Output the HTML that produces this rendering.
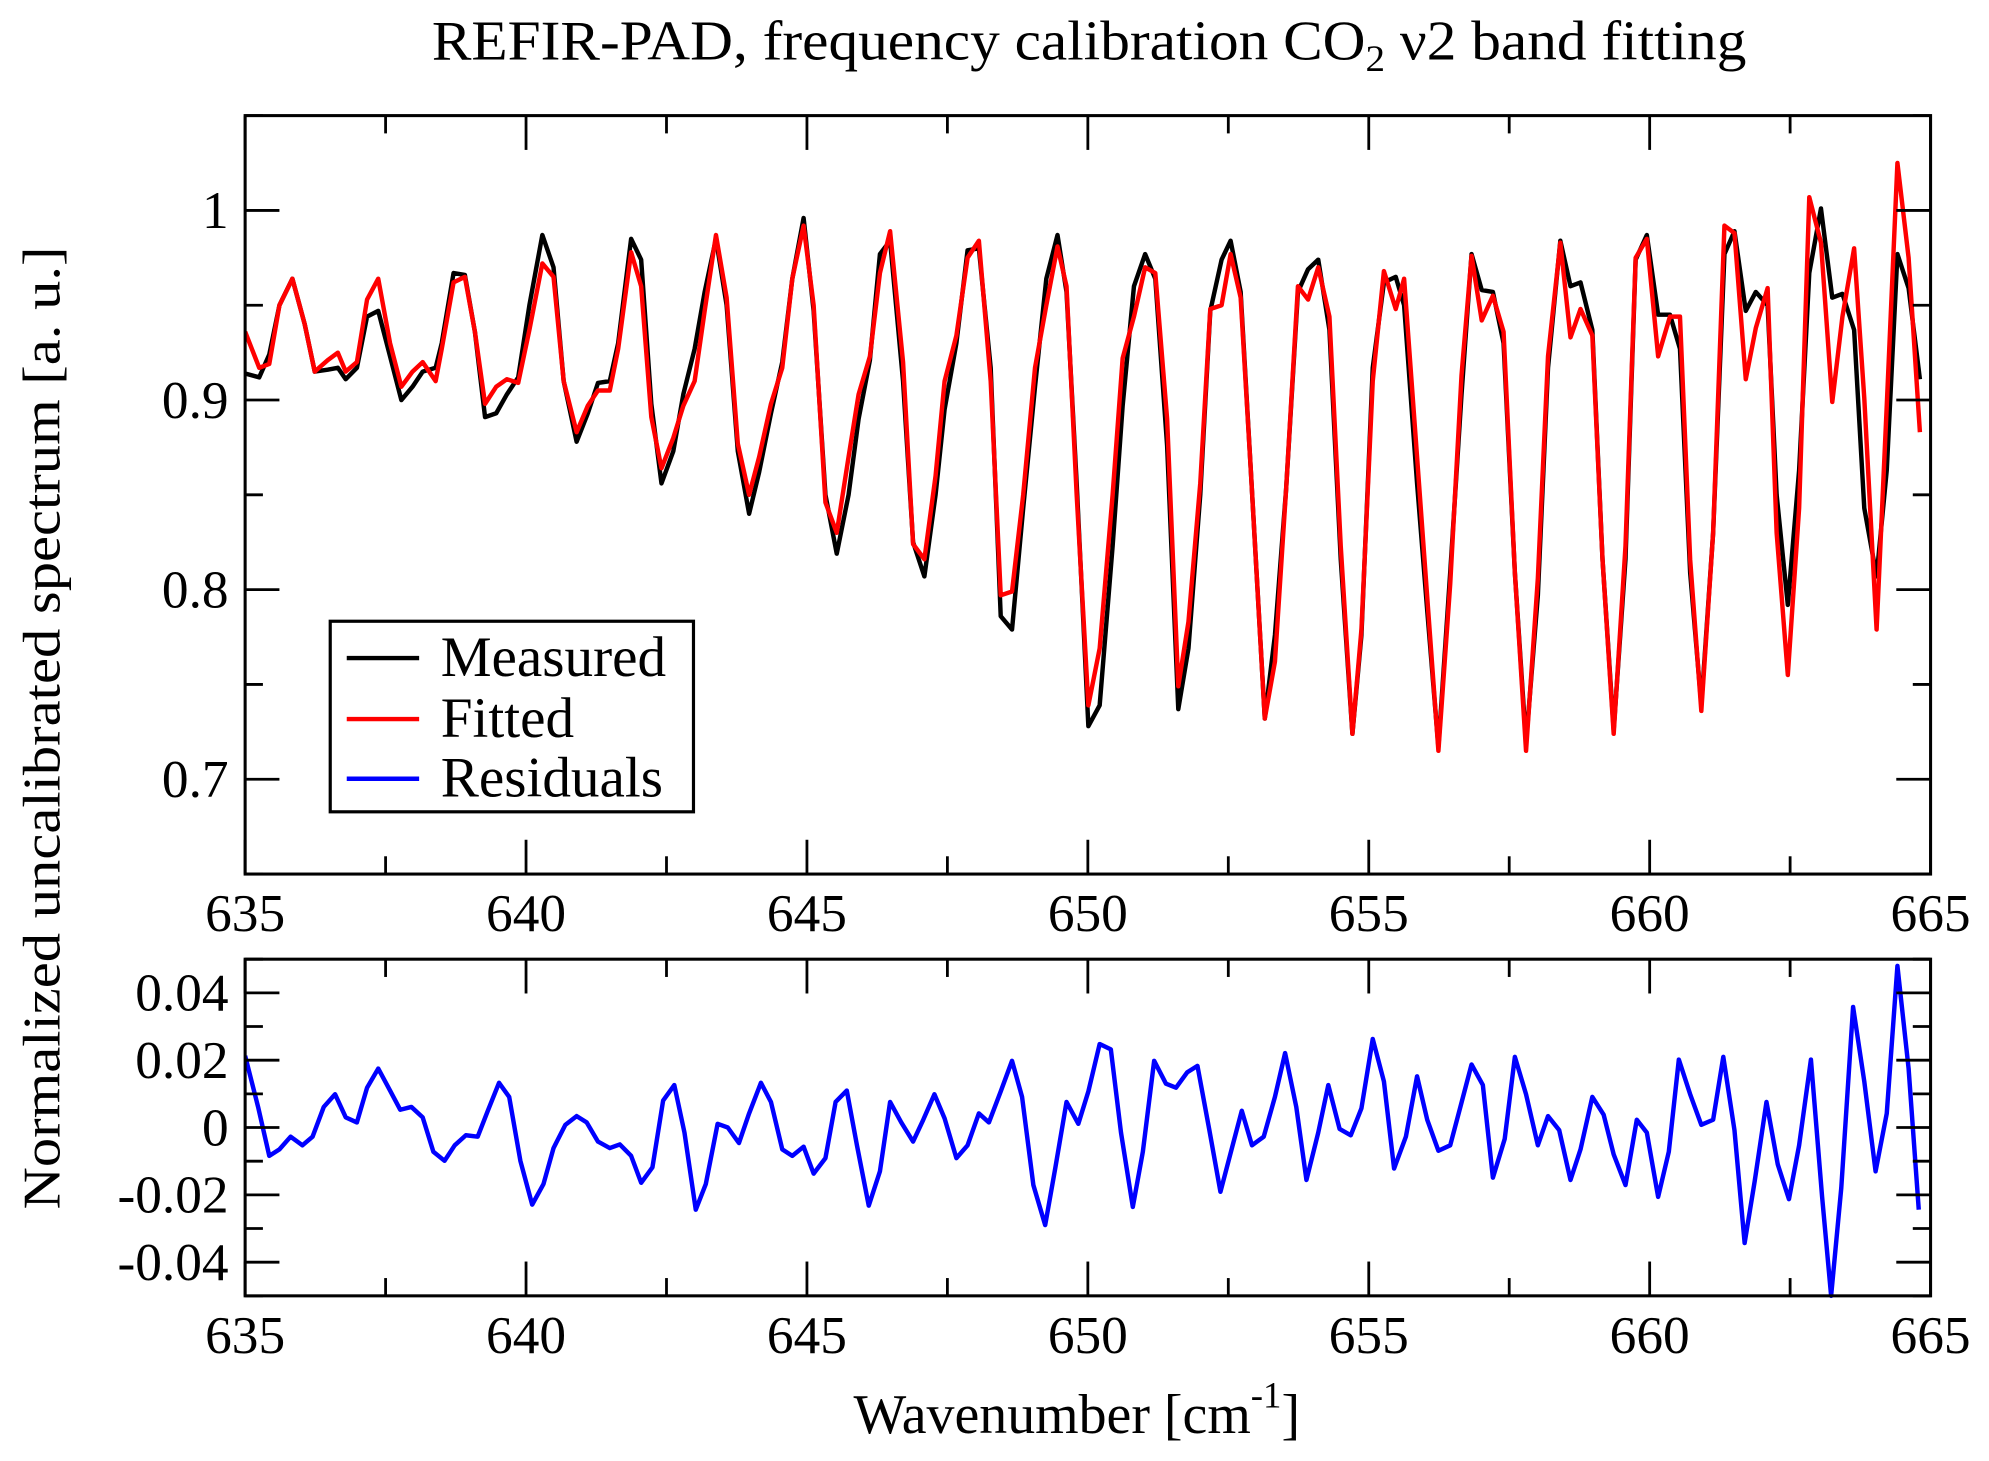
<!DOCTYPE html>
<html><head><meta charset="utf-8"><title>REFIR-PAD frequency calibration</title>
<style>html,body{margin:0;padding:0;background:#fff}svg{display:block}text{font-family:"Liberation Serif",serif;fill:#000}</style>
</head><body>
<svg id="chart" width="1989" height="1461" viewBox="0 0 1566 1150" preserveAspectRatio="none" xmlns="http://www.w3.org/2000/svg">
<rect x="0" y="0" width="1566" height="1150" fill="#fff"/>
<text x="340" y="47" font-size="44" textLength="1035" lengthAdjust="spacingAndGlyphs">REFIR-PAD, frequency calibration CO<tspan font-size="29" dy="9">2</tspan><tspan dy="-9"> ν2 band fitting</tspan></text>
<text transform="translate(47,573) rotate(-90)" font-size="42" text-anchor="middle" textLength="758" lengthAdjust="spacingAndGlyphs">Normalized uncalibrated spectrum [a. u.]</text>
<text x="672" y="1128" font-size="44">Wavenumber [cm<tspan font-size="29" dy="-20">-1</tspan><tspan dy="20">]</tspan></text>
<g id="top"></g>
<g id="bot"></g>
<g>
<rect x="260" y="489" width="286" height="150" fill="#fff" stroke="#000" stroke-width="2.5"/>
<line x1="273" y1="518" x2="330" y2="518" stroke="#000" stroke-width="3.5"/>
<text x="347" y="532" font-size="45">Measured</text>
<line x1="273" y1="566" x2="330" y2="566" stroke="#f00" stroke-width="3.5"/>
<text x="347" y="580" font-size="45">Fitted</text>
<line x1="273" y1="613" x2="330" y2="613" stroke="#00f" stroke-width="3.5"/>
<text x="347" y="627" font-size="45">Residuals</text>
</g>
</svg>
<script>
const specWn=[635.00,635.25,635.43,635.61,635.84,636.06,636.24,636.47,636.65,636.79,636.99,637.17,637.37,637.58,637.78,637.98,638.16,638.39,638.50,638.71,638.91,639.09,639.27,639.47,639.66,639.86,640.06,640.29,640.49,640.67,640.90,641.10,641.28,641.49,641.64,641.87,642.05,642.23,642.41,642.62,642.80,643.00,643.18,643.38,643.57,643.77,643.97,644.15,644.36,644.56,644.74,644.94,645.12,645.33,645.53,645.74,645.92,646.12,646.30,646.48,646.71,646.89,647.09,647.29,647.45,647.66,647.86,648.06,648.27,648.45,648.65,648.85,649.06,649.26,649.46,649.62,649.80,650.01,650.21,650.44,650.62,650.82,651.02,651.20,651.41,651.61,651.79,652.00,652.18,652.38,652.54,652.72,652.90,653.15,653.33,653.53,653.74,653.92,654.10,654.30,654.50,654.71,654.87,655.07,655.27,655.48,655.63,655.86,656.04,656.24,656.45,656.65,656.83,657.01,657.21,657.40,657.60,657.80,658.01,658.19,658.41,658.59,658.77,658.98,659.16,659.36,659.57,659.75,659.95,660.15,660.36,660.54,660.72,660.92,661.13,661.33,661.51,661.71,661.89,662.10,662.26,662.46,662.66,662.84,663.05,663.25,663.43,663.64,663.82,664.04,664.22,664.41,664.61,664.81];
const measured=[0.914,0.912,0.924,0.950,0.964,0.940,0.915,0.916,0.917,0.911,0.917,0.944,0.947,0.923,0.900,0.907,0.915,0.917,0.930,0.967,0.966,0.936,0.891,0.893,0.903,0.912,0.950,0.987,0.970,0.910,0.878,0.893,0.909,0.910,0.930,0.985,0.974,0.898,0.856,0.873,0.903,0.927,0.957,0.985,0.950,0.873,0.840,0.862,0.893,0.920,0.964,0.996,0.947,0.850,0.819,0.850,0.890,0.921,0.977,0.984,0.910,0.825,0.807,0.850,0.895,0.930,0.979,0.980,0.917,0.786,0.779,0.843,0.907,0.964,0.987,0.957,0.856,0.728,0.739,0.823,0.897,0.960,0.977,0.964,0.876,0.737,0.769,0.850,0.947,0.974,0.984,0.957,0.863,0.732,0.776,0.853,0.957,0.969,0.974,0.937,0.816,0.724,0.776,0.917,0.962,0.965,0.950,0.856,0.789,0.717,0.809,0.903,0.977,0.958,0.957,0.930,0.809,0.719,0.797,0.917,0.984,0.960,0.962,0.937,0.816,0.726,0.816,0.974,0.987,0.945,0.945,0.927,0.809,0.739,0.830,0.977,0.989,0.947,0.957,0.950,0.850,0.792,0.863,0.967,1.001,0.954,0.956,0.937,0.843,0.807,0.863,0.977,0.959,0.911];
const fitted=[0.936,0.917,0.919,0.950,0.964,0.940,0.915,0.921,0.925,0.915,0.920,0.953,0.964,0.930,0.907,0.915,0.920,0.910,0.927,0.962,0.965,0.936,0.898,0.907,0.911,0.909,0.937,0.972,0.965,0.910,0.883,0.897,0.905,0.905,0.927,0.978,0.960,0.891,0.864,0.880,0.897,0.910,0.947,0.987,0.954,0.877,0.850,0.870,0.898,0.917,0.964,0.992,0.950,0.846,0.830,0.870,0.903,0.923,0.967,0.989,0.920,0.824,0.816,0.860,0.910,0.934,0.975,0.984,0.910,0.797,0.799,0.850,0.917,0.950,0.981,0.960,0.850,0.739,0.769,0.850,0.922,0.944,0.970,0.967,0.890,0.749,0.783,0.856,0.948,0.950,0.977,0.954,0.863,0.732,0.762,0.853,0.960,0.953,0.970,0.944,0.823,0.724,0.779,0.910,0.968,0.948,0.964,0.870,0.796,0.715,0.803,0.913,0.976,0.942,0.955,0.936,0.809,0.715,0.806,0.923,0.983,0.933,0.948,0.934,0.816,0.724,0.823,0.975,0.985,0.923,0.944,0.944,0.816,0.736,0.830,0.992,0.988,0.911,0.938,0.959,0.830,0.755,0.843,1.007,0.983,0.899,0.944,0.980,0.901,0.779,0.897,1.025,0.975,0.883];
const resWn=[635.00,635.23,635.43,635.61,635.81,636.02,636.20,636.40,636.60,636.79,636.99,637.17,637.37,637.58,637.76,637.96,638.16,638.35,638.55,638.73,638.93,639.14,639.32,639.52,639.70,639.90,640.11,640.31,640.49,640.70,640.90,641.08,641.28,641.49,641.67,641.87,642.05,642.25,642.44,642.64,642.82,643.02,643.20,643.41,643.59,643.79,643.97,644.18,644.36,644.56,644.74,644.94,645.12,645.33,645.51,645.71,645.89,646.10,646.30,646.48,646.68,646.89,647.07,647.27,647.45,647.66,647.86,648.06,648.24,648.45,648.65,648.83,649.03,649.24,649.42,649.62,649.83,650.01,650.21,650.41,650.59,650.80,650.98,651.18,651.39,651.57,651.77,651.95,652.16,652.36,652.54,652.74,652.92,653.13,653.33,653.51,653.71,653.89,654.10,654.28,654.48,654.68,654.87,655.07,655.27,655.45,655.66,655.86,656.04,656.24,656.45,656.63,656.83,657.03,657.21,657.42,657.60,657.80,658.01,658.19,658.39,658.59,658.77,658.98,659.18,659.36,659.57,659.77,659.95,660.15,660.34,660.52,660.72,660.92,661.13,661.31,661.51,661.69,661.87,662.08,662.28,662.48,662.66,662.87,663.07,663.23,663.41,663.62,663.82,664.02,664.22,664.41,664.61,664.79];
const residuals=[0.0213,0.0061,-0.0084,-0.0065,-0.0027,-0.0053,-0.0027,0.0061,0.0099,0.0030,0.0015,0.0118,0.0175,0.0110,0.0053,0.0061,0.0030,-0.0072,-0.0099,-0.0053,-0.0023,-0.0027,0.0050,0.0133,0.0091,-0.0099,-0.0229,-0.0168,-0.0061,0.0008,0.0034,0.0015,-0.0042,-0.0061,-0.0050,-0.0084,-0.0164,-0.0118,0.0080,0.0126,-0.0015,-0.0244,-0.0168,0.0011,0.0000,-0.0046,0.0042,0.0133,0.0076,-0.0065,-0.0084,-0.0057,-0.0137,-0.0091,0.0076,0.0110,-0.0053,-0.0232,-0.0130,0.0076,0.0015,-0.0042,0.0023,0.0099,0.0027,-0.0091,-0.0053,0.0042,0.0015,0.0107,0.0198,0.0091,-0.0171,-0.0290,-0.0122,0.0076,0.0011,0.0107,0.0248,0.0232,-0.0015,-0.0236,-0.0072,0.0198,0.0130,0.0118,0.0164,0.0183,-0.0004,-0.0191,-0.0076,0.0050,-0.0053,-0.0027,0.0091,0.0221,0.0061,-0.0156,-0.0015,0.0126,-0.0004,-0.0023,0.0057,0.0263,0.0137,-0.0122,-0.0027,0.0152,0.0023,-0.0069,-0.0053,0.0061,0.0187,0.0126,-0.0149,-0.0034,0.0210,0.0099,-0.0053,0.0034,-0.0008,-0.0156,-0.0065,0.0091,0.0038,-0.0080,-0.0171,0.0023,-0.0015,-0.0206,-0.0072,0.0202,0.0099,0.0008,0.0023,0.0210,-0.0008,-0.0343,-0.0160,0.0076,-0.0110,-0.0213,-0.0053,0.0202,-0.0206,-0.0500,-0.0179,0.0358,0.0137,-0.0130,0.0042,0.0480,0.0175,-0.0244];
const xTicks=[635,640,645,650,655,660,665];
const xTickLabels=["635","640","645","650","655","660","665"];
const topYTicks=[0.7,0.8,0.9,1.0];
const topYTickLabels=["0.7","0.8","0.9","1"];
const botYTicks=[-0.04,-0.02,0,0.02,0.04];
const botYTickLabels=["-0.04","-0.02","0","0.02","0.04"];

const NS="http://www.w3.org/2000/svg";
const L=193,R=1520;
const xS=v=>L+(v-635)/30*(R-L);
const topT=91,topB=688,botT=755,botB=1020;
const yTop=v=>topT+(1.05-v)/0.4*(topB-topT);
const yBot=v=>botT+(0.05-v)/0.1*(botB-botT);
function mk(tag,parent,attrs){const e=document.createElementNS(NS,tag);for(const k in attrs)e.setAttribute(k,attrs[k]);parent.appendChild(e);return e;}
function panel(g,pT,pB,yS,yt,ytl,ymin,ymax,yminor,name){
  const fr=mk('rect',g,{x:L,y:pT,width:R-L,height:pB-pT,fill:'none',stroke:'#000','stroke-width':2.4});
  
  
  for(let v=635;v<=665.001;v+=2.5){
    const major=Math.abs(v/5-Math.round(v/5))<1e-6;const len=major?27:14;const x=xS(v);
    const t1=mk('line',g,{x1:x,y1:pB,x2:x,y2:pB-len,stroke:'#000','stroke-width':2.2});
    
    
    const t2=mk('line',g,{x1:x,y1:pT,x2:x,y2:pT+len,stroke:'#000','stroke-width':2.2});
    
    
  }
  xTicks.forEach((v,i)=>{const t=mk('text',g,{x:xS(v),y:pB+45,'font-size':42,'text-anchor':'middle'});t.textContent=xTickLabels[i];
    
    });
  for(let v=ymin;v<=ymax+1e-9;v+=yminor){
    const isMaj=yt.some(m=>Math.abs(m-v)<1e-9);const len=isMaj?27:14;const y=yS(v);
    const t1=mk('line',g,{x1:L,y1:y,x2:L+len,y2:y,stroke:'#000','stroke-width':2.2});
    
    
    const t2=mk('line',g,{x1:R,y1:y,x2:R-len,y2:y,stroke:'#000','stroke-width':2.2});
    
    
  }
  yt.forEach((v,i)=>{const t=mk('text',g,{x:180,y:yS(v)+14,'font-size':42,'text-anchor':'end'});t.textContent=ytl[i];
    
    });
}
function line(g,xs,ys,yS,color,name,clip){
  const pts=xs.map((x,i)=>xS(x).toFixed(1)+','+yS(ys[i]).toFixed(1)).join(' ');
  const p=mk('polyline',g,{points:pts,fill:'none',stroke:color,'stroke-width':3.5,'stroke-linejoin':'round','clip-path':clip});
  
  
}
const svg=document.getElementById('chart');
const defs=mk('defs',svg,{});
const c1=mk('clipPath',defs,{id:'c1'});mk('rect',c1,{x:L,y:topT,width:R-L,height:topB-topT});
const c2=mk('clipPath',defs,{id:'c2'});mk('rect',c2,{x:L,y:botT-2,width:R-L,height:botB-botT+4});
const gt=document.getElementById('top'),gb=document.getElementById('bot');
line(gt,specWn,measured,yTop,'#000','measured-line','url(#c1)');
line(gt,specWn,fitted,yTop,'#f00','fitted-line','url(#c1)');
panel(gt,topT,topB,yTop,topYTicks,topYTickLabels,0.65,1.05,0.05,'top');
line(gb,resWn,residuals,yBot,'#00f','residuals-line','url(#c2)');
panel(gb,botT,botB,yBot,botYTicks,botYTickLabels,-0.05,0.05,0.01,'bottom');
</script>
</body></html>
